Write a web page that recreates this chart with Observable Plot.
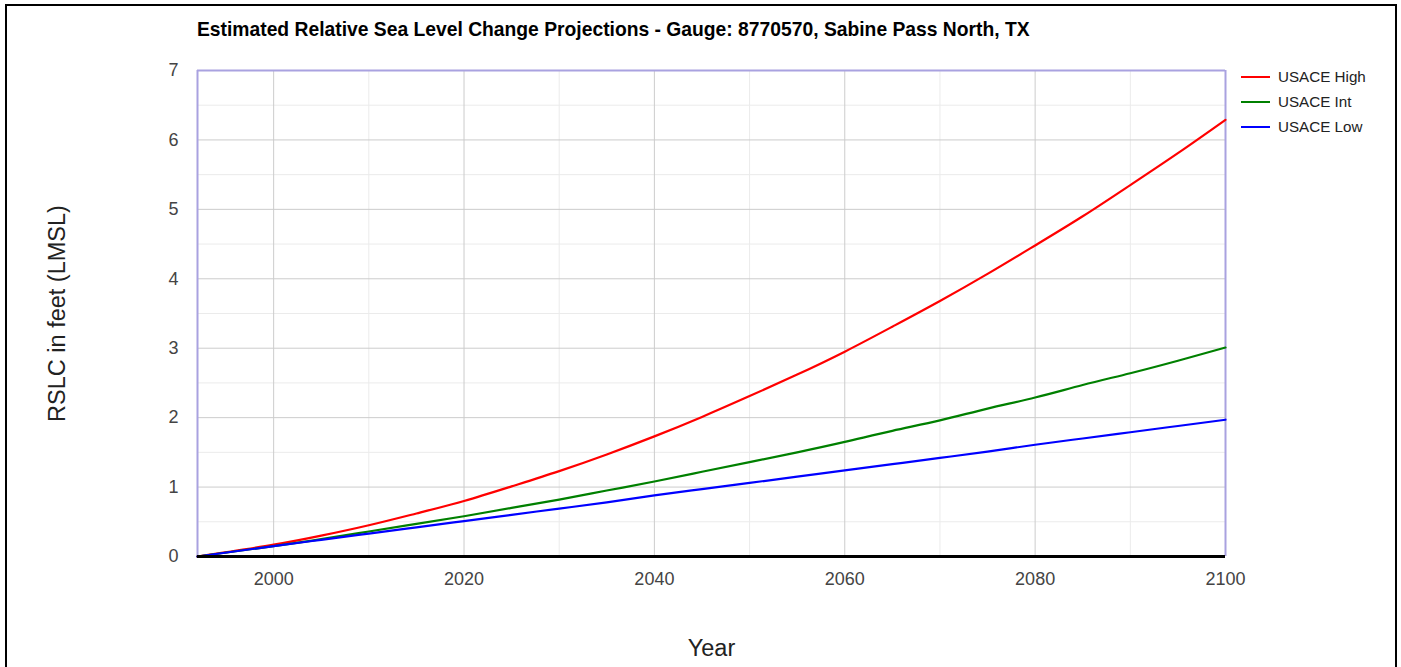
<!DOCTYPE html>
<html>
<head>
<meta charset="utf-8">
<script src="https://cdn.jsdelivr.net/npm/d3@7"></script>
<script src="https://cdn.jsdelivr.net/npm/@observablehq/plot@0.6"></script>
<style>
  html, body { margin: 0; padding: 0; background: #fff; }
  #wrap { position: relative; width: 1401px; height: 667px; overflow: hidden; font-family: "Liberation Sans", Arial, sans-serif; }
  #frame { position: absolute; left: 5px; top: 4px; width: 1392px; height: 700px; border: 2px solid #000; box-sizing: border-box; }
  #title { position: absolute; left: 197px; top: 19px; font-size: 19.3px; font-weight: bold; color: #000; white-space: nowrap; }
  #chart { position: absolute; left: 0; top: 0; }
  #legend { position: absolute; left: 1241px; top: 64px; font-size: 15.2px; color: #222; }
  .item { display: flex; align-items: center; height: 25px; }
  .swatch { width: 29px; height: 2px; margin-right: 8px; }
</style>
</head>
<body>
<div id="wrap">
  <div id="frame"></div>
  <div id="chart"></div>
  <div id="title">Estimated Relative Sea Level Change Projections - Gauge: 8770570, Sabine Pass North, TX</div>
  <div id="legend"></div>
</div>
<script>
const years = [1992, 2000, 2005, 2010, 2015, 2020, 2025, 2030, 2035, 2040, 2045, 2050, 2055, 2060, 2065, 2070, 2075, 2080, 2085, 2090, 2095, 2100];
const usaceHigh = [0, 0.17, 0.30, 0.45, 0.62, 0.80, 1.01, 1.23, 1.47, 1.73, 2.01, 2.31, 2.62, 2.95, 3.31, 3.68, 4.07, 4.48, 4.90, 5.35, 5.81, 6.29];
const usaceInt  = [0, 0.15, 0.25, 0.36, 0.47, 0.58, 0.70, 0.82, 0.95, 1.08, 1.22, 1.36, 1.50, 1.65, 1.81, 1.96, 2.13, 2.29, 2.47, 2.64, 2.82, 3.01];
const usaceLow  = [0, 0.15, 0.24, 0.33, 0.42, 0.51, 0.60, 0.69, 0.78, 0.88, 0.97, 1.06, 1.15, 1.24, 1.33, 1.42, 1.51, 1.61, 1.70, 1.79, 1.88, 1.97];

const seriesNames = ["USACE High", "USACE Int", "USACE Low"];
const seriesColors = ["#ff0000", "#008000", "#0000ff"];
const seriesValues = [usaceHigh, usaceInt, usaceLow];

const xTicks = [2000, 2020, 2040, 2060, 2080, 2100];
const xMinor = [2010, 2030, 2050, 2070, 2090];
const yTicks = [0, 1, 2, 3, 4, 5, 6, 7];
const yMinor = [0.5, 1.5, 2.5, 3.5, 4.5, 5.5, 6.5];

const rows = [];
seriesNames.forEach((name, i) => {
  years.forEach((yr, j) => rows.push({series: name, year: yr, value: seriesValues[i][j]}));
});

const chart = Plot.plot({
  width: 1401,
  height: 667,
  marginLeft: 197,
  marginRight: 176,
  marginTop: 70,
  marginBottom: 111,
  style: {fontFamily: "'Liberation Sans', Arial, sans-serif", fontSize: "18px", color: "#444", background: "transparent"},
  x: {domain: [1992, 2100], ticks: xTicks, tickFormat: d => String(d), tickSize: 0, tickPadding: 16, label: null},
  y: {domain: [0, 7], ticks: yTicks, tickFormat: d => String(d), tickSize: 0, tickPadding: 19, label: null},
  color: {domain: seriesNames, range: seriesColors},
  marks: [
    Plot.ruleX(xMinor, {stroke: "#ebebeb", strokeWidth: 1}),
    Plot.ruleY(yMinor, {stroke: "#ebebeb", strokeWidth: 1}),
    Plot.ruleX(xTicks, {stroke: "#cccccc", strokeWidth: 1}),
    Plot.ruleY(yTicks.slice(1), {stroke: "#cccccc", strokeWidth: 1}),
    Plot.ruleX([1992, 2100], {stroke: "#a9a2e0", strokeWidth: 2}),
    Plot.ruleY([7], {stroke: "#a9a2e0", strokeWidth: 2}),
    Plot.line(rows, {x: "year", y: "value", z: "series", stroke: "series", strokeWidth: 2.2, curve: "natural"}),
    Plot.ruleY([0], {stroke: "#000", strokeWidth: 3}),
    Plot.axisX({ticks: xTicks, tickFormat: d => String(d), tickSize: 0, tickPadding: 16, label: null, fill: "#444"}),
    Plot.axisY({ticks: yTicks, tickFormat: d => String(d), tickSize: 0, tickPadding: 19, label: null, fill: "#444"}),
    Plot.text(["Year"], {frameAnchor: "bottom", dy: 99, fontSize: 23.5, fill: "#222"}),
    Plot.text(["RSLC in feet (LMSL)"], {frameAnchor: "left", textAnchor: "middle", dx: -140, rotate: -90, fontSize: 23.5, fill: "#222"})
  ]
});
document.getElementById("chart").appendChild(chart);

const legend = document.getElementById("legend");
seriesNames.forEach((name, i) => {
  const item = document.createElement("div");
  item.className = "item";
  const sw = document.createElement("div");
  sw.className = "swatch";
  sw.style.background = seriesColors[i];
  const label = document.createElement("span");
  label.textContent = name;
  item.appendChild(sw);
  item.appendChild(label);
  legend.appendChild(item);
});
</script>
</body>
</html>
